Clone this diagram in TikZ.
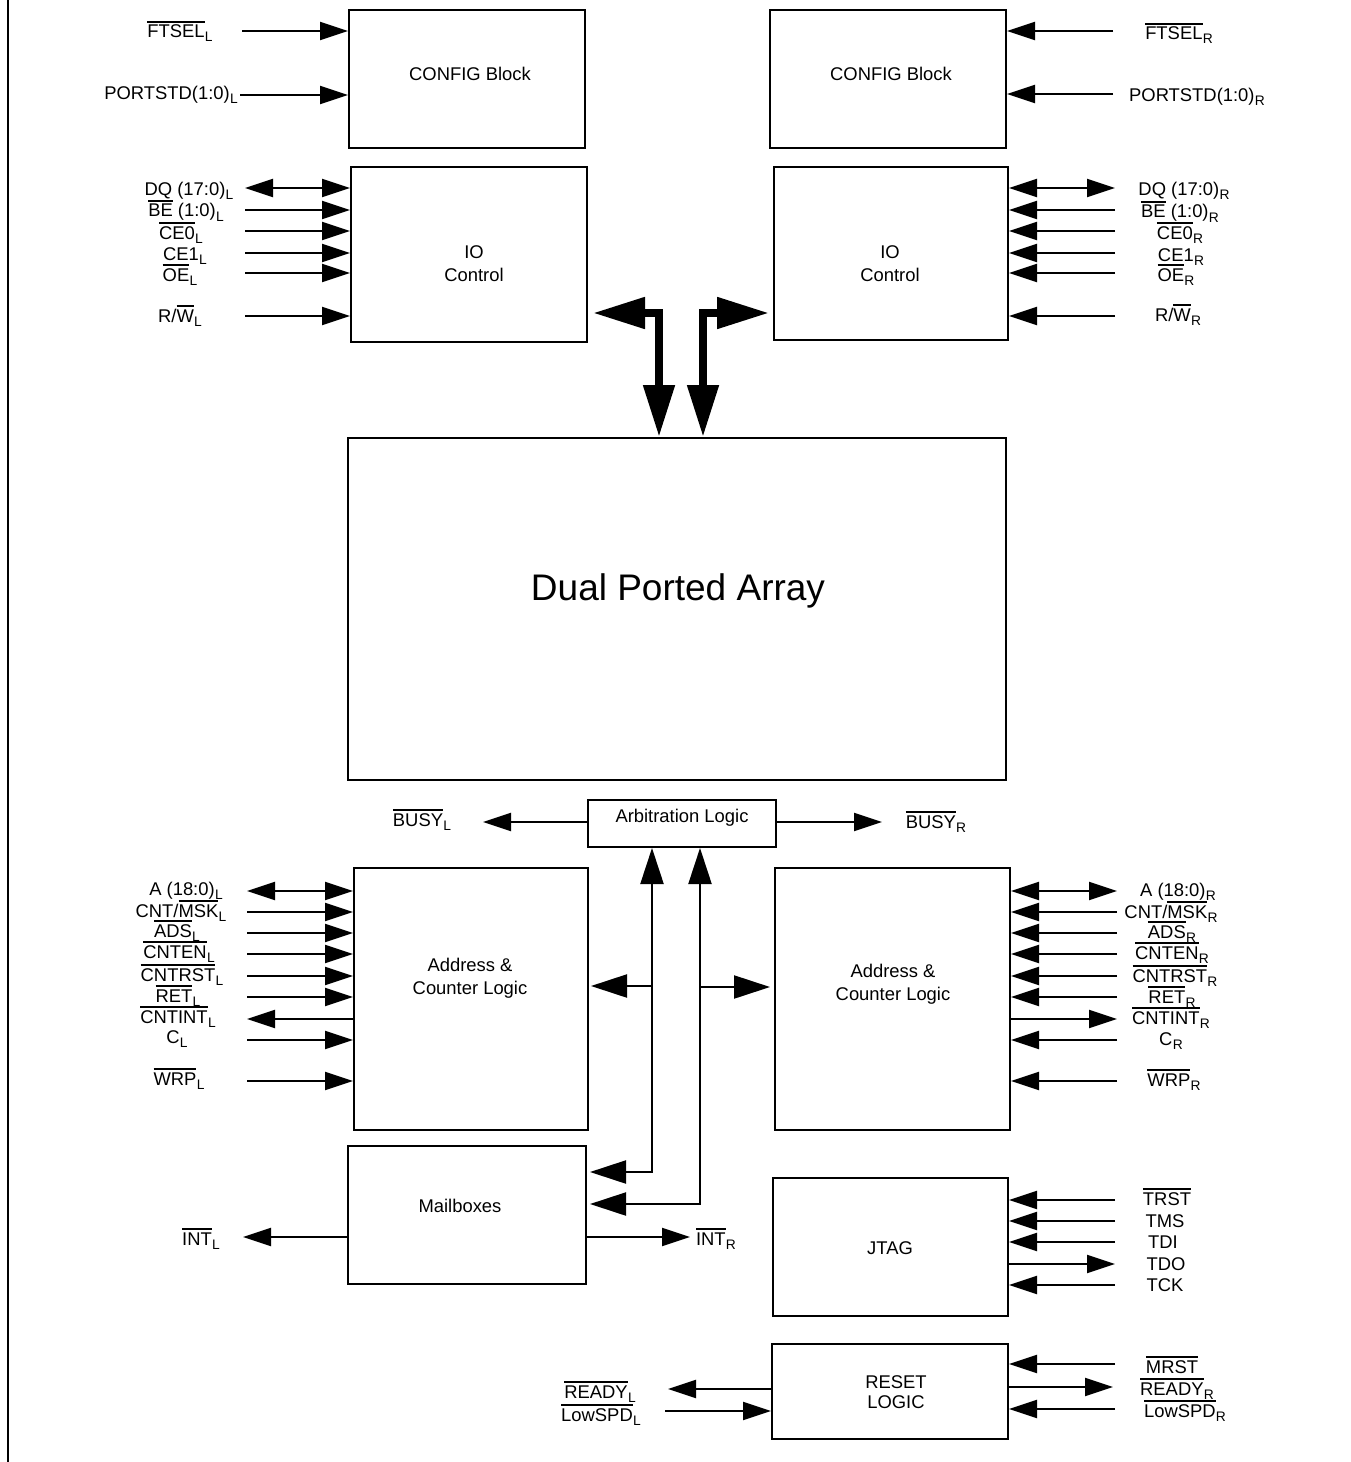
\documentclass[tikz,border=0pt]{standalone}
\usepackage{fontspec}
\setmainfont{Liberation Sans}
\usetikzlibrary{arrows.meta}
\newcommand\ovl[1]{\vbox{\hrule height 1.6bp\kern 2.5bp\hbox{#1}}}
\newcommand\sbs[1]{\kern0.3bp\raisebox{-4bp}{\fontsize{13.8bp}{14bp}\selectfont #1}}
\begin{document}
\begin{tikzpicture}[x=1bp,y=-1bp,
  sigtip/.tip={Triangle[length=28bp,width=18bp]},
  midtip/.tip={Triangle[length=36bp,width=23bp]},
  bigtip/.tip={Triangle[length=52bp,width=30bp]},
  box/.style 2 args={draw, line width=2bp, inner sep=0pt, minimum width=#1bp, minimum height=#2bp},
  lbl/.style={font=\fontsize{18.4bp}{23bp}\selectfont, inner sep=0pt, anchor=base},
  txt/.style={font=\fontsize{18.4bp}{23bp}\selectfont, inner sep=0pt, anchor=base},
  txtm/.style={font=\fontsize{18.4bp}{#1bp}\selectfont, inner sep=0pt, anchor=north, align=center},
  bigtxt/.style={font=\fontsize{37bp}{44bp}\selectfont, inner sep=0pt, anchor=base},
  sig/.style={line width=2.2bp, -sigtip},
  sigr/.style={line width=2.2bp, sigtip-},
  sigb/.style={line width=2.2bp, sigtip-sigtip},
  midc/.style={line width=2.2bp, -midtip},
  midb/.style={line width=2.2bp, midtip-midtip},
  thick2/.style={line width=8bp, line join=miter, bigtip-bigtip}
]
\useasboundingbox (0,0) rectangle (1351,1462);
\draw[line width=2bp] (8,0) -- (8,1462);

% boxes
\node[box={236}{138}] (cfgL) at (467,79) {};
\node[box={236}{138}] (cfgR) at (888,79) {};
\node[box={236}{175}] (ioL) at (469,254.5) {};
\node[box={234}{173}] (ioR) at (891,253.5) {};
\node[box={658}{342}] (dpa) at (677,609) {};
\node[box={188}{47}] (arb) at (682,823.5) {};
\node[box={234}{262}] (adL) at (471,999) {};
\node[box={235}{262}] (adR) at (892.5,999) {};
\node[box={238}{138}] (mbx) at (467,1215) {};
\node[box={235}{138}] (jtag) at (890.5,1247) {};
\node[box={236}{95}] (rst) at (890,1391.5) {};

% box texts
\node[txt] (tcfgL) at (470,80.6) {CONFIG Block};
\node[txt] (tcfgR) at (891,80.6) {CONFIG Block};
\node[txtm=23] (tioL) at (474,245.4) {IO\\Control};
\node[txtm=23] (tioR) at (890,245.4) {IO\\Control};
\node[bigtxt] (tdpa) at (678,600) {Dual Ported Array};
\node[txt] (tarb) at (682,822.6) {Arbitration Logic};
\node[txtm=23] (tadL) at (470,958.4) {Address \&\\Counter Logic};
\node[txtm=23] (tadR) at (893,964.4) {Address \&\\Counter Logic};
\node[txt] (tmbx) at (460,1212.6) {Mailboxes};
\node[txt] (tjtag) at (890,1254.6) {JTAG};
\node[txtm=20] (trst) at (896,1375.4) {RESET\\LOGIC};

% config signals
\node[lbl] (lFtselL) at (180,38) {\ovl{FTSEL}\sbs{L}};
\node[lbl] (lPortL) at (171,100) {PORTSTD(1:0)\sbs{L}};
\node[lbl] (lFtselR) at (1179,40) {\ovl{FTSEL}\sbs{R}};
\node[lbl] (lPortR) at (1197,102) {PORTSTD(1:0)\sbs{R}};
\coordinate (cFtselL) at (242,31);
\coordinate (cPortL) at (240,95);
\coordinate (cFtselR) at (1113,31);
\coordinate (cPortR) at (1113,94);
\draw[sig] (cFtselL) -- (cFtselL -| cfgL.west);
\draw[sig] (cPortL) -- (cPortL -| cfgL.west);
\draw[sig] (cFtselR) -- (cFtselR -| cfgR.east);
\draw[sig] (cPortR) -- (cPortR -| cfgR.east);

% IO control left
\node[lbl] (lDqL) at (189,196) {DQ (17:0)\sbs{L}};
\node[lbl] (lBeL) at (186,217) {\ovl{BE} (1:0)\sbs{L}};
\node[lbl] (lCezL) at (181,239) {\ovl{CE0}\sbs{L}};
\node[lbl] (lCeoL) at (185,260) {CE1\sbs{L}};
\node[lbl] (lOeL) at (180,281) {\ovl{OE}\sbs{L}};
\node[lbl] (lRwL) at (180,322) {R/\ovl{W}\sbs{L}};
\foreach \n/\y in {Dq/188, Be/210, Cez/231, Ceo/253, Oe/273, Rw/316}
  \coordinate (io\n L) at (245,\y);
\draw[sigb] (ioDqL) -- (ioDqL -| ioL.west);
\foreach \n in {Be, Cez, Ceo, Oe, Rw}
  \draw[sig] (io\n L) -- (io\n L -| ioL.west);

% IO control right
\node[lbl] (lDqR) at (1184,196) {DQ (17:0)\sbs{R}};
\node[lbl] (lBeR) at (1180,218) {\ovl{BE} (1:0)\sbs{R}};
\node[lbl] (lCezR) at (1180,239) {\ovl{CE0}\sbs{R}};
\node[lbl] (lCeoR) at (1181,261) {CE1\sbs{R}};
\node[lbl] (lOeR) at (1176,281) {\ovl{OE}\sbs{R}};
\node[lbl] (lRwR) at (1178,321) {R/\ovl{W}\sbs{R}};
\foreach \n/\y in {Dq/188, Be/210, Cez/231, Ceo/253, Oe/273, Rw/316}
  \coordinate (io\n R) at (1115,\y);
\draw[sigb] (ioDqR) -- (ioDqR -| ioR.east);
\foreach \n in {Be, Cez, Ceo, Oe, Rw}
  \draw[sig] (io\n R) -- (io\n R -| ioR.east);

% thick buses
\coordinate (tkL) at (659,313);
\coordinate (tkR) at (703,313);
\draw[thick2] ([xshift=5bp]tkL -| ioL.east) -- (tkL) -- (tkL |- dpa.north);
\draw[thick2] ([xshift=-4bp]tkR -| ioR.west) -- (tkR) -- (tkR |- dpa.north);

% busy
\node[lbl] (lBusyL) at (422,826) {\ovl{BUSY}\sbs{L}};
\node[lbl] (lBusyR) at (936,828) {\ovl{BUSY}\sbs{R}};
\coordinate (cBusyL) at (483,822);
\coordinate (cBusyR) at (882,822);
\draw[sig] (cBusyL -| arb.west) -- (cBusyL);
\draw[sig] (cBusyR -| arb.east) -- (cBusyR);

% address left
\node[lbl] (lAL) at (186,895) {A (18:0)\sbs{L}};
\node[lbl] (lMskL) at (181,917) {CNT/\ovl{MSK}\sbs{L}};
\node[lbl] (lAdsL) at (177,937) {\ovl{ADS}\sbs{L}};
\node[lbl] (lCntenL) at (179,958) {\ovl{CNTEN}\sbs{L}};
\node[lbl] (lCntrstL) at (182,981) {\ovl{CNTRST}\sbs{L}};
\node[lbl] (lRetL) at (178,1002) {\ovl{RET}\sbs{L}};
\node[lbl] (lCntintL) at (178,1023) {\ovl{CNTINT}\sbs{L}};
\node[lbl] (lCL) at (177,1043) {C\sbs{L}};
\node[lbl] (lWrpL) at (179,1085) {\ovl{WRP}\sbs{L}};
\foreach \n/\y in {A/891, Msk/912, Ads/933, Cnten/954, Cntrst/976, Ret/997, Cntint/1019, C/1040, Wrp/1081}
  \coordinate (ad\n L) at (247,\y);
\draw[sigb] (adAL) -- (adAL -| adL.west);
\draw[sigr] (adCntintL) -- (adCntintL -| adL.west);
\foreach \n in {Msk, Ads, Cnten, Cntrst, Ret, C, Wrp}
  \draw[sig] (ad\n L) -- (ad\n L -| adL.west);

% address right
\node[lbl] (lAR) at (1178,896) {A (18:0)\sbs{R}};
\node[lbl] (lMskR) at (1171,918) {CNT/\ovl{MSK}\sbs{R}};
\node[lbl] (lAdsR) at (1172,938) {\ovl{ADS}\sbs{R}};
\node[lbl] (lCntenR) at (1172,959) {\ovl{CNTEN}\sbs{R}};
\node[lbl] (lCntrstR) at (1175,982) {\ovl{CNTRST}\sbs{R}};
\node[lbl] (lRetR) at (1172,1003) {\ovl{RET}\sbs{R}};
\node[lbl] (lCntintR) at (1171,1024) {\ovl{CNTINT}\sbs{R}};
\node[lbl] (lCR) at (1171,1045) {C\sbs{R}};
\node[lbl] (lWrpR) at (1174,1086) {\ovl{WRP}\sbs{R}};
\foreach \n/\y in {A/891, Msk/912, Ads/933, Cnten/954, Cntrst/976, Ret/997, Cntint/1019, C/1040, Wrp/1081}
  \coordinate (ad\n R) at (1117,\y);
\draw[sigb] (adAR) -- (adAR -| adR.east);
\draw[sigr] (adCntintR) -- (adCntintR -| adR.east);
\foreach \n in {Msk, Ads, Cnten, Cntrst, Ret, C, Wrp}
  \draw[sig] (ad\n R) -- (ad\n R -| adR.east);

% central arbitration connections
\coordinate (vL) at (652,0);
\coordinate (vR) at (700,0);
\coordinate (mbL) at (652,1172);
\coordinate (mbR) at (700,1204);
\coordinate (brL) at (652,986);
\coordinate (brR) at (700,987);
\draw[midb] (arb.south -| vL) -- (mbL) -- ([xshift=3bp]mbL -| mbx.east);
\draw[midb] (arb.south -| vR) -- (mbR) -- ([xshift=3bp]mbR -| mbx.east);
\draw[midc] (brL) -- ([xshift=2bp]brL -| adL.east);
\draw[midc] (brR) -- ([xshift=-4bp]brR -| adR.west);

% mailboxes
\node[lbl] (lIntL) at (201,1245) {\ovl{INT}\sbs{L}};
\node[lbl] (lIntR) at (716,1245) {\ovl{INT}\sbs{R}};
\coordinate (cIntL) at (243,1237);
\coordinate (cIntR) at (690,1237);
\draw[sig] (cIntL -| mbx.west) -- (cIntL);
\draw[sig] (cIntR -| mbx.east) -- (cIntR);

% JTAG
\node[lbl] (lTrst) at (1167,1205) {\ovl{TRST}};
\node[lbl] (lTms) at (1165,1227) {TMS};
\node[lbl] (lTdi) at (1163,1248) {TDI};
\node[lbl] (lTdo) at (1166,1270) {TDO};
\node[lbl] (lTck) at (1165,1291) {TCK};
\foreach \n/\y in {Trst/1200, Tms/1221, Tdi/1242, Tdo/1264, Tck/1285}
  \coordinate (jt\n) at (1115,\y);
\draw[sigr] (jtTdo) -- (jtTdo -| jtag.east);
\foreach \n in {Trst, Tms, Tdi, Tck}
  \draw[sig] (jt\n) -- (jt\n -| jtag.east);

% reset
\node[lbl] (lReadyL) at (600,1398) {\ovl{READY}\sbs{L}};
\node[lbl] (lLowL) at (601,1421) {\ovl{LowSPD}\sbs{L}};
\node[lbl] (lMrst) at (1172,1373) {\ovl{MRST}};
\node[lbl] (lReadyR) at (1177,1395) {\ovl{READY}\sbs{R}};
\node[lbl] (lLowR) at (1185,1417) {\ovl{LowSPD}\sbs{R}};
\coordinate (cReadyL) at (668,1389);
\coordinate (cLowL) at (665,1411);
\coordinate (cMrst) at (1115,1364);
\coordinate (cReadyR) at (1113,1387);
\coordinate (cLowR) at (1115,1409);
\draw[sig] (cReadyL -| rst.west) -- (cReadyL);
\draw[sig] (cLowL) -- (cLowL -| rst.west);
\draw[sig] (cMrst) -- (cMrst -| rst.east);
\draw[sig] (cReadyR -| rst.east) -- (cReadyR);
\draw[sig] (cLowR) -- (cLowR -| rst.east);
\end{tikzpicture}
\end{document}
